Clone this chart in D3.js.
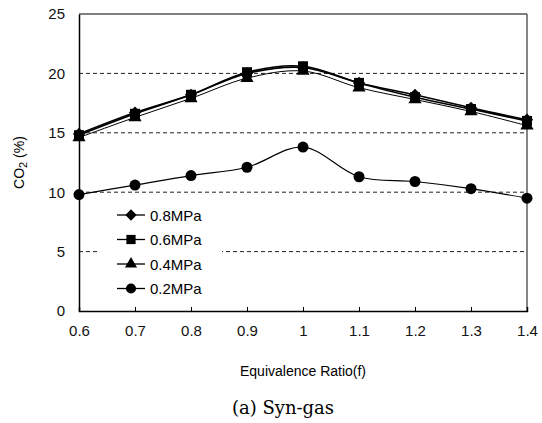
<!DOCTYPE html>
<html lang="en">
<head>
<meta charset="UTF-8">
<title>CO2 vs Equivalence Ratio - Syn-gas</title>
<script src="https://d3js.org/d3.v7.min.js"></script>
<style>
  body { margin: 0; background: #fff; }
  text { font-family: Arial, "Liberation Sans", sans-serif; }
  text.caption { font-family: "DejaVu Serif", "Liberation Serif", serif; }
</style>
</head>
<body>
<svg id="chart" width="542" height="423"></svg>
<script>
  const ratios = [0.6, 0.7, 0.8, 0.9, 1.0, 1.1, 1.2, 1.3, 1.4];
  const p08 = [14.9, 16.7, 18.2, 20.0, 20.5, 19.2, 18.2, 17.1, 16.1];
  const p06 = [14.8, 16.6, 18.2, 20.1, 20.6, 19.2, 18.0, 17.0, 16.0];
  const p04 = [14.6, 16.3, 17.9, 19.6, 20.2, 18.8, 17.8, 16.8, 15.6];
  const p02 = [9.8, 10.6, 11.4, 12.1, 13.8, 11.3, 10.9, 10.3, 9.5];
  const seriesNames = ["0.8MPa", "0.6MPa", "0.4MPa", "0.2MPa"];
  const xTicks = ["0.6", "0.7", "0.8", "0.9", "1", "1.1", "1.2", "1.3", "1.4"];
  const yTicks = [0, 5, 10, 15, 20, 25];

  const svg = d3.select("#chart");
  const margin = { left: 79, right: 15, top: 14, bottom: 112 };
  const W = 542, H = 423;

  const x = d3.scaleLinear().domain([0.6, 1.4]).range([margin.left, W - margin.right]);
  const y = d3.scaleLinear().domain([0, 25]).range([H - margin.bottom, margin.top]);

  // grid
  svg.append("g").selectAll("line")
    .data(yTicks.filter(d => d > 0 && d < 25))
    .enter().append("line")
    .attr("x1", x(0.6)).attr("x2", x(1.4))
    .attr("y1", d => y(d)).attr("y2", d => y(d))
    .attr("stroke", "#222").attr("stroke-width", 1)
    .attr("stroke-dasharray", "4,3");

  // frame
  svg.append("line").attr("x1", x(0.6)).attr("x2", x(1.4)).attr("y1", y(25)).attr("y2", y(25))
    .attr("stroke", "#555").attr("stroke-width", 1.5);
  svg.append("line").attr("x1", x(1.4)).attr("x2", x(1.4)).attr("y1", y(25)).attr("y2", y(0))
    .attr("stroke", "#333").attr("stroke-width", 1.2);

  // axes
  const xAxis = d3.axisBottom(x).tickValues(ratios).tickSize(-4).tickFormat((d, i) => xTicks[i]);
  const gx = svg.append("g").attr("transform", `translate(0,${y(0)})`).call(xAxis);
  gx.select(".domain").attr("stroke", "#000").attr("stroke-width", 1.5);
  gx.selectAll("text").attr("font-size", 15).attr("dy", "1.45em").attr("fill", "#111");

  const yAxis = d3.axisLeft(y).tickValues(yTicks).tickSize(0);
  const gy = svg.append("g").attr("transform", `translate(${x(0.6)},0)`).call(yAxis);
  gy.select(".domain").attr("stroke", "#000").attr("stroke-width", 1.5);
  gy.selectAll("text").attr("font-size", 15).attr("x", -14).attr("fill", "#111");

  // axis titles
  svg.append("text").attr("x", 303).attr("y", 376).attr("text-anchor", "middle")
    .attr("font-size", 14).text("Equivalence Ratio(f)");
  const yl = svg.append("text").attr("transform", `translate(24,${y(12.5)}) rotate(-90)`)
    .attr("text-anchor", "middle").attr("font-size", 14);
  yl.append("tspan").text("CO");
  yl.append("tspan").attr("font-size", 11).attr("dy", 3).text("2");
  yl.append("tspan").attr("dy", -3).text(" (%)");

  svg.append("text").attr("class", "caption").attr("x", 283).attr("y", 414).attr("text-anchor", "middle")
    .attr("font-size", 18).text("(a) Syn-gas");

  // series
  const squareDiamond = {
    draw(ctx, size) {
      const r = Math.sqrt(size / 2);
      ctx.moveTo(0, -r); ctx.lineTo(r, 0); ctx.lineTo(0, r); ctx.lineTo(-r, 0); ctx.closePath();
    }
  };
  const symbols = [squareDiamond, d3.symbolSquare, d3.symbolTriangle, d3.symbolCircle];
  const symSizes = [75, 100, 75, 95];
  const widths = [1.6, 1.6, 1.0, 1.2];
  const allSeries = [p08, p06, p04, p02];
  const line = d3.line().x((d, i) => x(ratios[i])).y(d => y(d)).curve(d3.curveCatmullRom.alpha(0.5));

  // legend background
  svg.append("rect").attr("x", 100).attr("y", 201).attr("width", 122).attr("height", 100).attr("fill", "#fff");

  allSeries.forEach((vals, si) => {
    svg.append("path").datum(vals).attr("d", line)
      .attr("fill", "none").attr("stroke", "#000").attr("stroke-width", widths[si]);
  });
  // draw markers bottom-up so squares sit on top
  [3, 2, 0, 1].forEach(si => {
    svg.append("g").selectAll("path").data(allSeries[si]).enter().append("path")
      .attr("transform", (d, i) => `translate(${x(ratios[i])},${y(d)})`)
      .attr("d", d3.symbol().type(symbols[si]).size(symSizes[si]))
      .attr("fill", "#000");
  });

  // legend
  const lg = svg.append("g");
  seriesNames.forEach((name, i) => {
    const ly = 215 + i * 24.5;
    lg.append("line").attr("x1", 117).attr("x2", 145).attr("y1", ly).attr("y2", ly)
      .attr("stroke", "#000").attr("stroke-width", 1.3);
    lg.append("path").attr("transform", `translate(131,${ly})`)
      .attr("d", d3.symbol().type(symbols[i]).size(symSizes[i] * 0.85)).attr("fill", "#000");
    lg.append("text").attr("x", 150).attr("y", ly + 5.5).attr("font-size", 15).text(name);
  });
</script>
</body>
</html>
